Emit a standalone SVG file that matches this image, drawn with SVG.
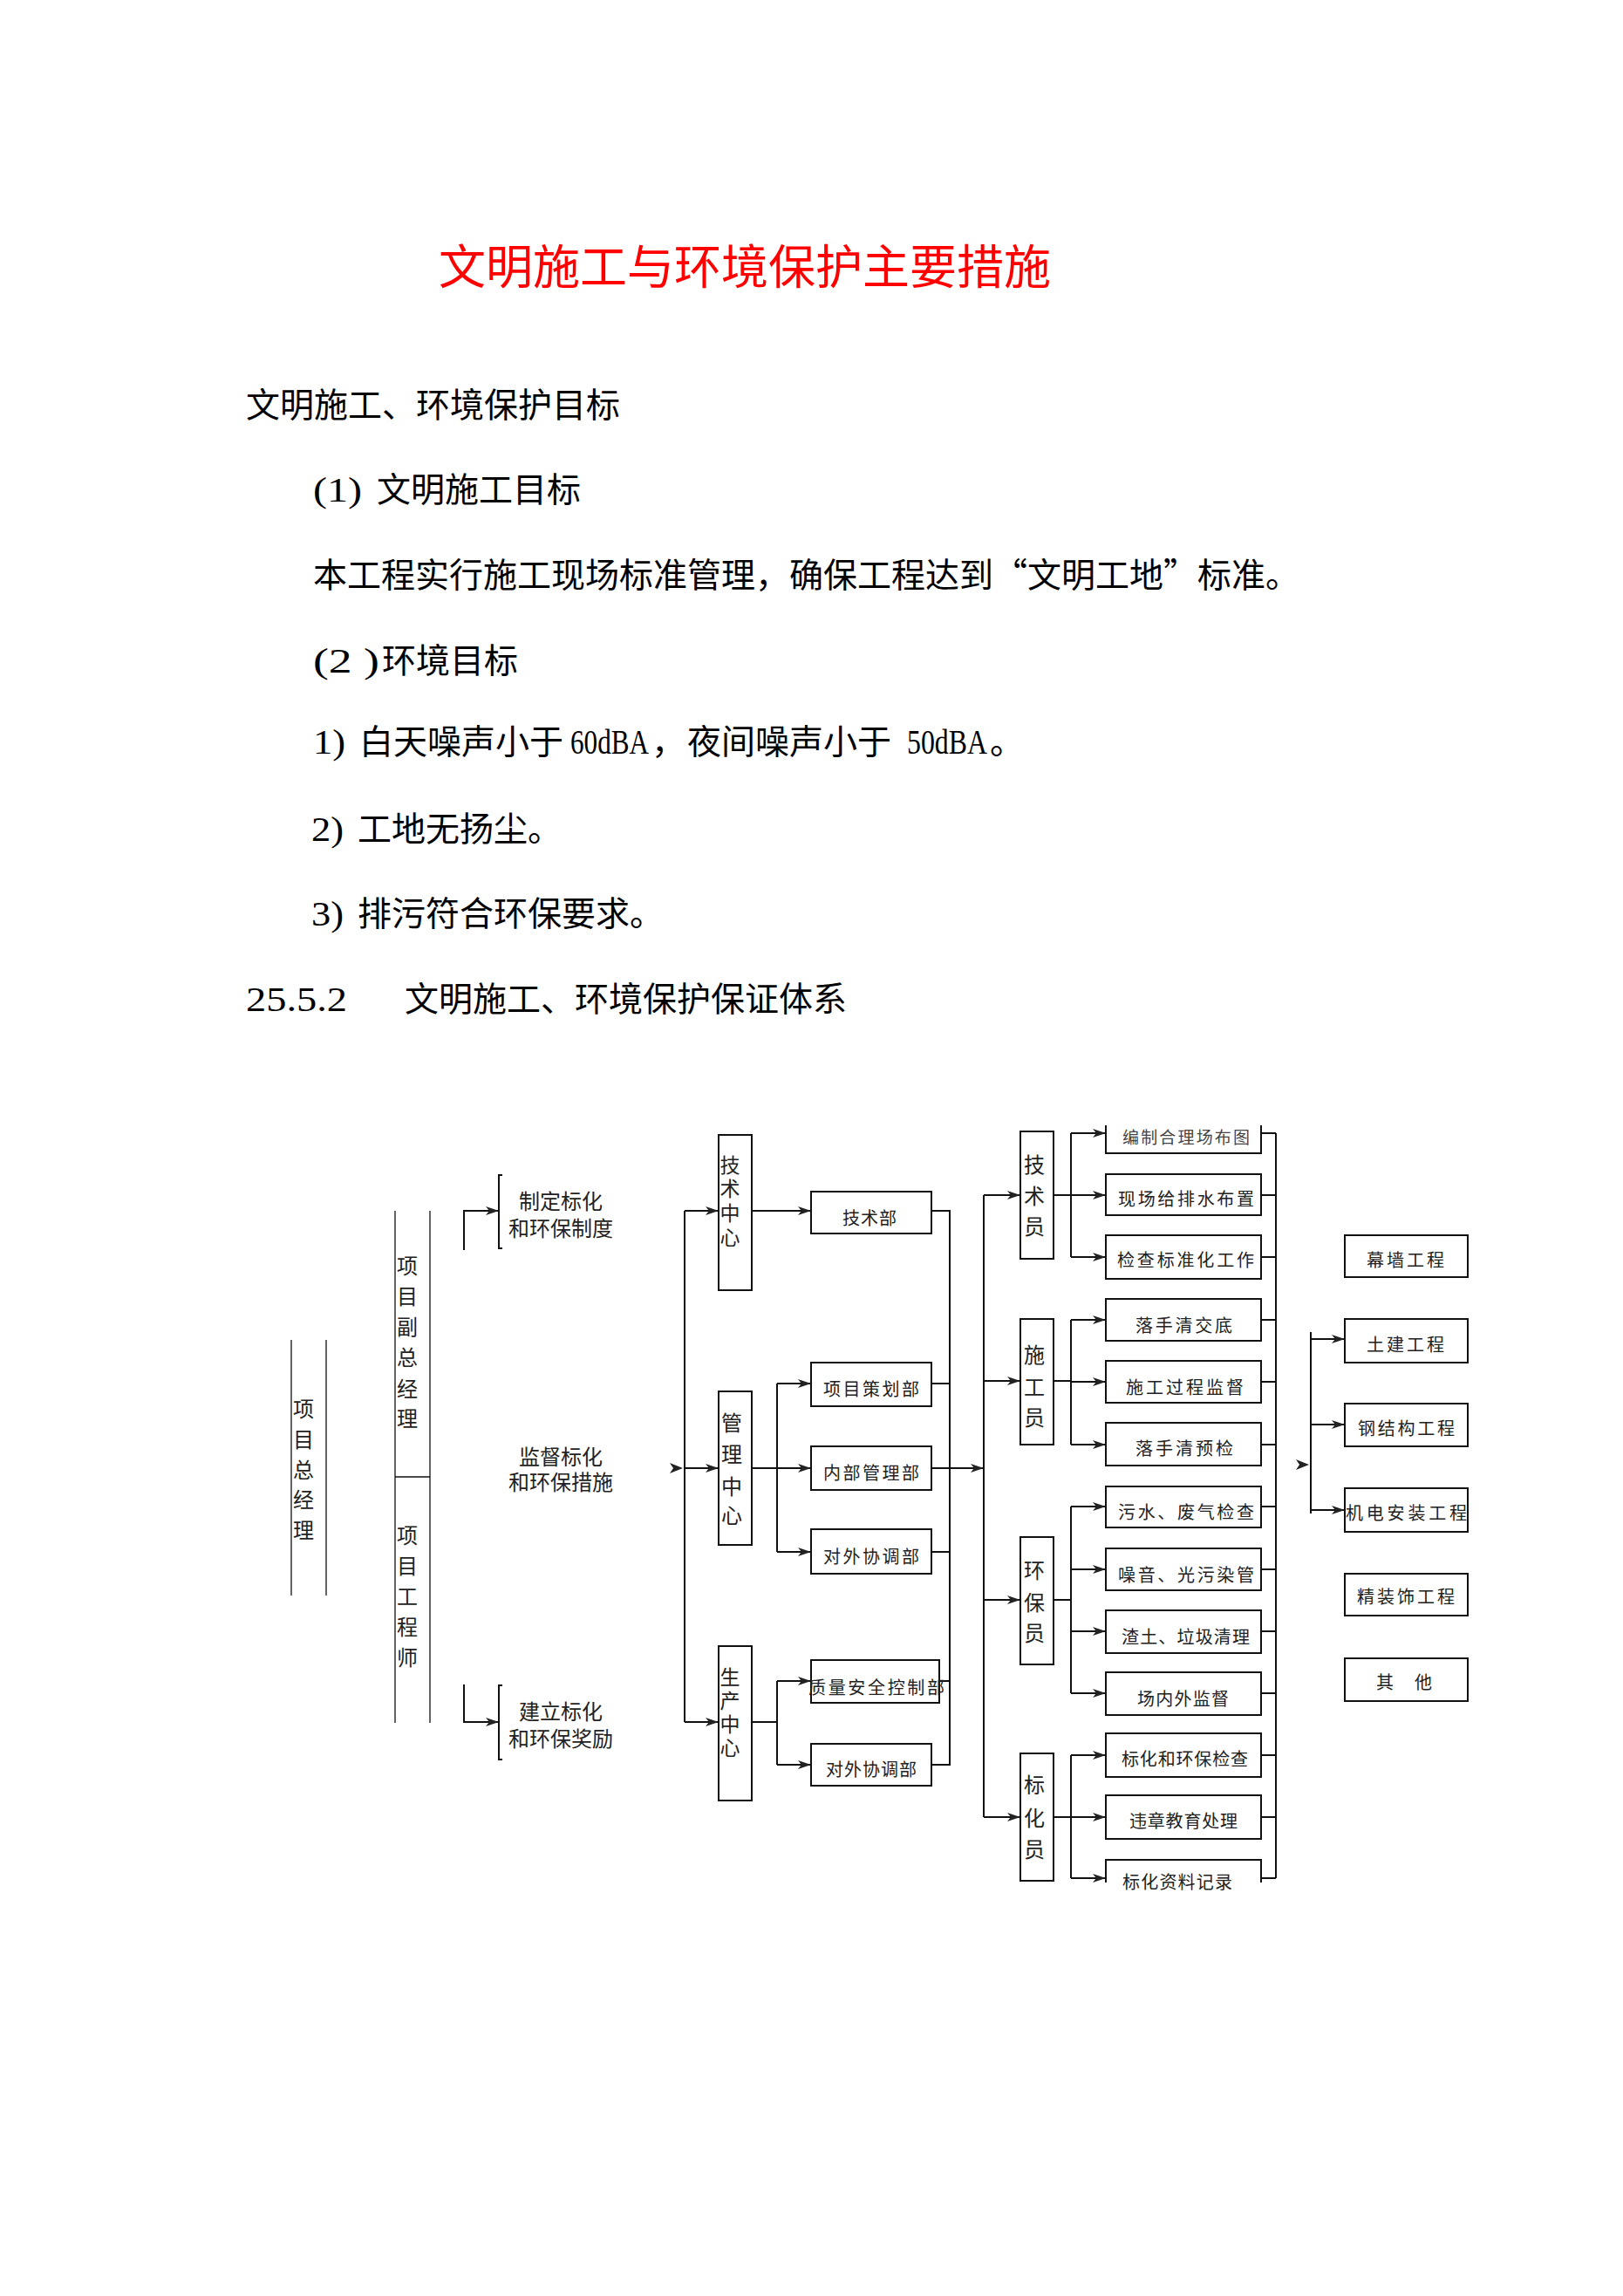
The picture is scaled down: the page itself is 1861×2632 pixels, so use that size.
<svg xmlns="http://www.w3.org/2000/svg" width="1861" height="2632" viewBox="0 0 1861 2632">
<style>
.t{font-family:"Noto Sans CJK SC","Noto Sans CJK JP",sans-serif;fill:#000}
.lat{font-family:"Liberation Serif",serif}
.title{font-size:54px;fill:#ff0000}
.body{font-size:39px}
.lbl{font-size:20px;fill:#222}
.vl{font-size:24px;fill:#222;text-anchor:middle}
.vs{font-size:23px}
.box{fill:none;stroke:#111;stroke-width:2}
.ln{fill:none;stroke:#111;stroke-width:2}
.thin{fill:none;stroke:#111;stroke-width:1.3}
.ah{fill:#222}
</style>
<defs>
<marker id="ah" markerUnits="userSpaceOnUse" markerWidth="16" markerHeight="12" refX="15" refY="6" orient="auto"><path d="M0,1 L15,6 L0,11 L4,6 z" fill="#222"/></marker>
</defs>
<rect width="1861" height="2632" fill="#fff"/>

<g id="text-body" class="t">
<text class="t title" x="503" y="326">文明施工与环境保护主要措施</text>
<text class="t body" x="282" y="478">文明施工、环境保护目标</text>
<text class="t body" y="575"><tspan class="lat" x="359" textLength="56" lengthAdjust="spacingAndGlyphs">(1)</tspan><tspan x="432">文明施工目标</tspan></text>
<text class="t body" y="673"><tspan x="359">本工程实行施工现场标准管理，确保工程达到</tspan><tspan x="1139">“</tspan><tspan x="1178">文明工地</tspan><tspan x="1334">”</tspan><tspan x="1373">标准。</tspan></text>
<text class="t body" y="771"><tspan class="lat" x="359" textLength="76" lengthAdjust="spacingAndGlyphs">(2 )</tspan><tspan x="438">环境目标</tspan></text>
<text class="t body" y="864"><tspan class="lat" x="359" textLength="37" lengthAdjust="spacingAndGlyphs">1)</tspan><tspan x="412">白天噪声小于</tspan><tspan class="lat" x="654" textLength="90" lengthAdjust="spacingAndGlyphs">60dBA</tspan><tspan x="747">，</tspan><tspan x="788">夜间噪声小于</tspan><tspan class="lat" x="1040" textLength="92" lengthAdjust="spacingAndGlyphs">50dBA</tspan><tspan x="1135">。</tspan></text>
<text class="t body" y="964"><tspan class="lat" x="357" textLength="37" lengthAdjust="spacingAndGlyphs">2)</tspan><tspan x="410">工地无扬尘。</tspan></text>
<text class="t body" y="1061"><tspan class="lat" x="357" textLength="37" lengthAdjust="spacingAndGlyphs">3)</tspan><tspan x="410">排污符合环保要求。</tspan></text>
<text class="t body" y="1159"><tspan class="lat" x="282" textLength="116" lengthAdjust="spacingAndGlyphs">25.5.2</tspan><tspan x="464">文明施工、环境保护保证体系</tspan></text>
</g>

<g id="connectors">
<path class="thin" d="M334,1536V1829M374,1536V1829"/>
<path class="thin" d="M453,1388V1975M493,1388V1975M453,1693H493"/>
<path class="ln" d="M576,1347H572V1431H576"/>
<path class="ln" d="M576,1932H572V2017H576"/>
<path class="ln" marker-end="url(#ah)" d="M532,1433V1388H572"/>
<path class="ln" marker-end="url(#ah)" d="M532,1931V1974H572"/>
<path class="ln" d="M785,1388V1974"/>
<polygon class="ah" points="768,1677 783,1683 768,1689 772,1683"/>
<path class="ln" marker-end="url(#ah)" d="M785,1388H824"/>
<path class="ln" marker-end="url(#ah)" d="M785,1683H824"/>
<path class="ln" marker-end="url(#ah)" d="M785,1974H824"/>
<path class="ln" marker-end="url(#ah)" d="M862,1388H930"/>
<path class="ln" marker-end="url(#ah)" d="M862,1683H930"/>
<path class="ln" d="M891,1586V1779"/>
<path class="ln" marker-end="url(#ah)" d="M891,1586H930"/>
<path class="ln" marker-end="url(#ah)" d="M891,1779H930"/>
<path class="ln" d="M862,1974H891M891,1927V2023"/>
<path class="ln" marker-end="url(#ah)" d="M891,1927H930"/>
<path class="ln" marker-end="url(#ah)" d="M891,2023H930"/>
<path class="ln" d="M1068,1388H1089V2023H1068M1068,1586H1089M1068,1779H1089M1077,1927H1089"/>
<path class="ln" marker-end="url(#ah)" d="M1068,1683H1128"/>
<path class="ln" d="M1128,1370V2083"/>
<path class="ln" marker-end="url(#ah)" d="M1128,1370H1170"/>
<path class="ln" marker-end="url(#ah)" d="M1128,1583H1170"/>
<path class="ln" marker-end="url(#ah)" d="M1128,1834H1170"/>
<path class="ln" marker-end="url(#ah)" d="M1128,2083H1170"/>
<path class="ln" d="M1208,1370H1228M1228,1299V1441"/>
<path class="ln" marker-end="url(#ah)" d="M1228,1299H1268"/>
<path class="ln" marker-end="url(#ah)" d="M1228,1370H1268"/>
<path class="ln" marker-end="url(#ah)" d="M1228,1441H1268"/>
<path class="ln" d="M1208,1583H1228M1228,1513V1656"/>
<path class="ln" marker-end="url(#ah)" d="M1228,1513H1268"/>
<path class="ln" marker-end="url(#ah)" d="M1228,1584H1268"/>
<path class="ln" marker-end="url(#ah)" d="M1228,1656H1268"/>
<path class="ln" d="M1208,1834H1228M1228,1727V1941"/>
<path class="ln" marker-end="url(#ah)" d="M1228,1727H1268"/>
<path class="ln" marker-end="url(#ah)" d="M1228,1799H1268"/>
<path class="ln" marker-end="url(#ah)" d="M1228,1870H1268"/>
<path class="ln" marker-end="url(#ah)" d="M1228,1941H1268"/>
<path class="ln" d="M1208,2083H1228M1228,2012V2153"/>
<path class="ln" marker-end="url(#ah)" d="M1228,2012H1268"/>
<path class="ln" marker-end="url(#ah)" d="M1228,2083H1268"/>
<path class="ln" marker-end="url(#ah)" d="M1228,2153H1268"/>
<path class="ln" d="M1463,1299V2153M1446,1299H1463M1446,1370H1463M1446,1441H1463M1446,1513H1463M1446,1584H1463M1446,1656H1463M1446,1727H1463M1446,1799H1463M1446,1870H1463M1446,1941H1463M1446,2012H1463M1446,2083H1463M1446,2153H1463"/>
<polygon class="ah" points="1486,1673 1501,1679 1486,1685 1490,1679"/>
<path class="ln" d="M1503,1527V1735"/>
<path class="ln" marker-end="url(#ah)" d="M1503,1535H1542"/>
<path class="ln" marker-end="url(#ah)" d="M1503,1633H1542"/>
<path class="ln" marker-end="url(#ah)" d="M1503,1731H1542"/>
</g>

<g id="n-zongjingli"><text class="t vl"><tspan x="348" y="1624">项</tspan><tspan x="348" y="1659">目</tspan><tspan x="348" y="1694">总</tspan><tspan x="348" y="1728">经</tspan><tspan x="348" y="1763">理</tspan></text></g>
<g id="n-fuzong"><text class="t vl"><tspan x="467" y="1460">项</tspan><tspan x="467" y="1495">目</tspan><tspan x="467" y="1530">副</tspan><tspan x="467" y="1565">总</tspan><tspan x="467" y="1601">经</tspan><tspan x="467" y="1635">理</tspan></text></g>
<g id="n-gongchengshi"><text class="t vl"><tspan x="467" y="1769">项</tspan><tspan x="467" y="1804">目</tspan><tspan x="467" y="1839">工</tspan><tspan x="467" y="1874">程</tspan><tspan x="467" y="1909">师</tspan></text></g>

<g id="n-zhiding"><text class="t vl" x="643" y="1386">制定标化</text><text class="t vl" x="643" y="1417">和环保制度</text></g>
<g id="n-jiandu"><text class="t vl" x="643" y="1679">监督标化</text><text class="t vl" x="643" y="1708">和环保措施</text></g>
<g id="n-jianli"><text class="t vl" x="643" y="1971">建立标化</text><text class="t vl" x="643" y="2002">和环保奖励</text></g>

<g id="n-jishuzhongxin"><rect class="box" x="824" y="1301" width="38" height="178"/><text class="t vl vs"><tspan x="837" y="1344">技</tspan><tspan x="837" y="1371">术</tspan><tspan x="837" y="1399">中</tspan><tspan x="837" y="1427">心</tspan></text></g>
<g id="n-guanlizhongxin"><rect class="box" x="824" y="1595" width="38" height="176"/><text class="t vl"><tspan x="839" y="1640">管</tspan><tspan x="839" y="1676">理</tspan><tspan x="839" y="1713">中</tspan><tspan x="839" y="1746">心</tspan></text></g>
<g id="n-shengchanzhongxin"><rect class="box" x="824" y="1887" width="38" height="177"/><text class="t vl vs"><tspan x="837" y="1931">生</tspan><tspan x="837" y="1958">产</tspan><tspan x="837" y="1985">中</tspan><tspan x="837" y="2012">心</tspan></text></g>

<g id="n-jishubu"><rect class="box" x="930" y="1366" width="138" height="48"/><text class="t lbl" x="966" y="1404" textLength="62">技术部</text></g>
<g id="n-cehuabu"><rect class="box" x="930" y="1562" width="138" height="50"/><text class="t lbl" x="944" y="1600" textLength="110">项目策划部</text></g>
<g id="n-neibu"><rect class="box" x="930" y="1658" width="138" height="50"/><text class="t lbl" x="944" y="1696" textLength="110">内部管理部</text></g>
<g id="n-duiwai1"><rect class="box" x="930" y="1753" width="138" height="51"/><text class="t lbl" x="944" y="1792" textLength="110">对外协调部</text></g>
<g id="n-zhiliang"><rect class="box" x="930" y="1903" width="147" height="49"/><text class="t lbl" x="927" y="1942" textLength="156">质量安全控制部</text></g>
<g id="n-duiwai2"><rect class="box" x="930" y="1999" width="138" height="48"/><text class="t lbl" x="947" y="2036" textLength="104">对外协调部</text></g>

<g id="n-jishuyuan"><rect class="box" x="1170" y="1297" width="38" height="146"/><text class="t vl"><tspan x="1186" y="1344">技</tspan><tspan x="1186" y="1380">术</tspan><tspan x="1186" y="1415">员</tspan></text></g>
<g id="n-shigongyuan"><rect class="box" x="1170" y="1512" width="38" height="144"/><text class="t vl"><tspan x="1186" y="1562">施</tspan><tspan x="1186" y="1599">工</tspan><tspan x="1186" y="1634">员</tspan></text></g>
<g id="n-huanbaoyuan"><rect class="box" x="1170" y="1762" width="38" height="146"/><text class="t vl"><tspan x="1186" y="1809">环</tspan><tspan x="1186" y="1846">保</tspan><tspan x="1186" y="1881">员</tspan></text></g>
<g id="n-biaohuayuan"><rect class="box" x="1170" y="2010" width="38" height="146"/><text class="t vl"><tspan x="1186" y="2055">标</tspan><tspan x="1186" y="2093">化</tspan><tspan x="1186" y="2129">员</tspan></text></g>

<g id="n-r1"><path class="box" d="M1268,1290V1322H1446V1290"/><text class="t lbl" x="1287" y="1311" textLength="146" style="font-size:19px;fill:#444">编制合理场布图</text></g>
<g id="n-r2"><rect class="box" x="1268" y="1346" width="178" height="47"/><text class="t lbl" x="1282" y="1382" textLength="156">现场给排水布置</text></g>
<g id="n-r3"><rect class="box" x="1268" y="1416" width="178" height="50"/><text class="t lbl" x="1281" y="1452" textLength="157">检查标准化工作</text></g>
<g id="n-r4"><rect class="box" x="1268" y="1489" width="178" height="48"/><text class="t lbl" x="1302" y="1527" textLength="111">落手清交底</text></g>
<g id="n-r5"><rect class="box" x="1268" y="1560" width="178" height="48"/><text class="t lbl" x="1291" y="1598" textLength="135">施工过程监督</text></g>
<g id="n-r6"><rect class="box" x="1268" y="1631" width="178" height="49"/><text class="t lbl" x="1302" y="1668" textLength="112">落手清预检</text></g>
<g id="n-r7"><rect class="box" x="1268" y="1704" width="178" height="47"/><text class="t lbl" x="1282" y="1741" textLength="156">污水、废气检查</text></g>
<g id="n-r8"><rect class="box" x="1268" y="1775" width="178" height="48"/><text class="t lbl" x="1282" y="1813" textLength="156">噪音、光污染管</text></g>
<g id="n-r9"><rect class="box" x="1268" y="1846" width="178" height="49"/><text class="t lbl" x="1286" y="1884" textLength="147">渣土、垃圾清理</text></g>
<g id="n-r10"><rect class="box" x="1268" y="1917" width="178" height="49"/><text class="t lbl" x="1304" y="1955" textLength="105">场内外监督</text></g>
<g id="n-r11"><rect class="box" x="1268" y="1987" width="178" height="50"/><text class="t lbl" x="1286" y="2024" textLength="145">标化和环保检查</text></g>
<g id="n-r12"><rect class="box" x="1268" y="2058" width="178" height="50"/><text class="t lbl" x="1295" y="2095" textLength="124">违章教育处理</text></g>
<g id="n-r13"><path class="box" d="M1268,2158V2132H1446V2158"/><text class="t lbl" x="1287" y="2165" textLength="126">标化资料记录</text></g>

<g id="n-muqiang"><rect class="box" x="1542" y="1416" width="141" height="48"/><text class="t lbl" x="1567" y="1452" textLength="89">幕墙工程</text></g>
<g id="n-tujian"><rect class="box" x="1542" y="1512" width="141" height="50"/><text class="t lbl" x="1567" y="1549" textLength="89">土建工程</text></g>
<g id="n-gangjiegou"><rect class="box" x="1542" y="1609" width="141" height="49"/><text class="t lbl" x="1557" y="1645" textLength="111">钢结构工程</text></g>
<g id="n-jidian"><rect class="box" x="1542" y="1706" width="141" height="50"/><text class="t lbl" x="1543" y="1742" textLength="139">机电安装工程</text></g>
<g id="n-jingzhuang"><rect class="box" x="1542" y="1804" width="141" height="48"/><text class="t lbl" x="1556" y="1838" textLength="112">精装饰工程</text></g>
<g id="n-qita"><rect class="box" x="1542" y="1901" width="141" height="49"/><text class="t lbl" y="1936"><tspan x="1578">其</tspan><tspan x="1622">他</tspan></text></g>
</svg>
